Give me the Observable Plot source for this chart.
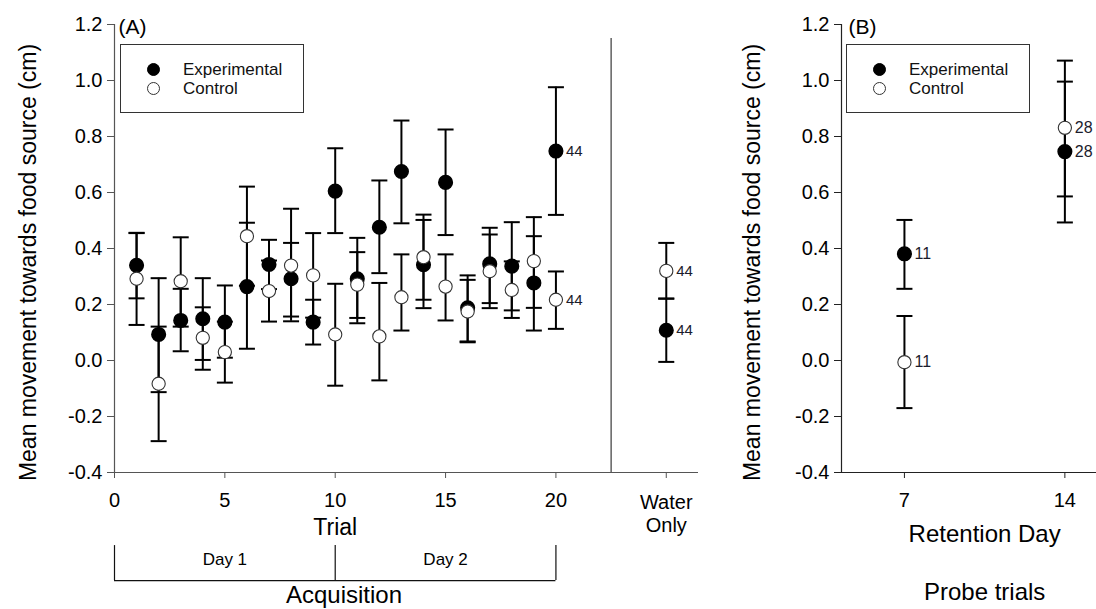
<!DOCTYPE html>
<html>
<head>
<meta charset="utf-8">
<script src="https://cdn.jsdelivr.net/npm/d3@7"></script>
<script src="https://cdn.jsdelivr.net/npm/@observablehq/plot@0.6"></script>
<style>
  body { margin: 0; background: #fff; }
  #wrap { position: relative; width: 1096px; height: 609px; font-family: "Liberation Sans", Arial, sans-serif; }
  #wrap svg { position: absolute; top: 0; }
  .legend { position: absolute; border: 1px solid #333; background: #fff; box-sizing: border-box; font-size: 17px; color: #111; }
  .legend .row { position: absolute; left: 0; height: 20px; line-height: 20px; white-space: nowrap; }
  .legend .mk { position: absolute; width: 13px; height: 13px; border-radius: 50%; box-sizing: border-box; top: 3px; }
  .legend .lab { position: absolute; }
</style>
</head>
<body>
<div id="wrap"></div>
<script>
// ---------- data (panel A: acquisition trials) ----------
const trials   = [1,2,3,4,5,6,7,8,9,10,11,12,13,14,15,16,17,18,19,20];
const expMean  = [0.340,0.093,0.143,0.149,0.137,0.264,0.343,0.292,0.137,0.605,0.292,0.476,0.675,0.342,0.636,0.188,0.345,0.337,0.277,0.748];
const expLo    = [0.222,-0.113,0.033,0.002,0.010,0.042,0.255,0.157,0.057,0.455,0.152,0.312,0.490,0.187,0.448,0.068,0.205,0.179,0.107,0.520];
const expHi    = [0.456,0.294,0.256,0.294,0.268,0.492,0.431,0.420,0.217,0.758,0.438,0.643,0.857,0.502,0.825,0.304,0.474,0.494,0.444,0.976];
const ctrlMean = [0.292,-0.083,0.283,0.081,0.030,0.444,0.248,0.339,0.304,0.093,0.271,0.086,0.226,0.369,0.264,0.175,0.319,0.252,0.355,0.217];
const ctrlLo   = [0.127,-0.288,0.121,-0.033,-0.079,0.267,0.139,0.140,0.153,-0.090,0.133,-0.071,0.107,0.217,0.143,0.065,0.187,0.152,0.188,0.113];
const ctrlHi   = [0.455,0.121,0.440,0.190,0.139,0.621,0.357,0.542,0.455,0.274,0.387,0.277,0.379,0.521,0.379,0.288,0.450,0.354,0.512,0.318];
const nLastTrial = {exp: 44, ctrl: 44};

// water-only trial
const waterPos  = 25;
const waterExp  = {m: 0.108, lo: -0.005, hi: 0.221, n: 44};
const waterCtrl = {m: 0.320, lo: 0.221, hi: 0.420, n: 44};

// ---------- data (panel B: probe trials) ----------
const retentionDays = [7, 14];
const probeExpMean  = [0.381, 0.746];
const probeExpLo    = [0.256, 0.493];
const probeExpHi    = [0.502, 0.996];
const probeCtrlMean = [-0.006, 0.831];
const probeCtrlLo   = [-0.170, 0.586];
const probeCtrlHi   = [0.159, 1.071];
const probeN        = [11, 28];

// ---------- tick labels / text ----------
const yTicks = [-0.4,-0.2,0.0,0.2,0.4,0.6,0.8,1.0,1.2];
const trialTicks = [0,5,10,15,20];
const waterLabel = "Water\nOnly";
const yLabel = "Mean movement towards food source (cm)";
const dayGroups = [{label: "Day 1", from: 0, to: 10}, {label: "Day 2", from: 10, to: 20}];
const groupLabel = "Acquisition";
const seriesNames = ["Experimental", "Control"];

// ---------- build tables ----------
const expA = trials.map((t, i) => ({x: t, m: expMean[i], lo: expLo[i], hi: expHi[i], n: i === trials.length - 1 ? nLastTrial.exp : null}))
  .concat([{x: waterPos, ...waterExp}]);
const ctrlA = trials.map((t, i) => ({x: t, m: ctrlMean[i], lo: ctrlLo[i], hi: ctrlHi[i], n: i === trials.length - 1 ? nLastTrial.ctrl : null}))
  .concat([{x: waterPos, ...waterCtrl}]);
const expB = retentionDays.map((d, i) => ({x: d, m: probeExpMean[i], lo: probeExpLo[i], hi: probeExpHi[i], n: probeN[i]}));
const ctrlB = retentionDays.map((d, i) => ({x: d, m: probeCtrlMean[i], lo: probeCtrlLo[i], hi: probeCtrlHi[i], n: probeN[i]}));

const capSymbol = {draw(ctx, size) { const w = Math.sqrt(size / Math.PI); ctx.moveTo(-w, 0); ctx.lineTo(w, 0); }};
const fmt = d => d.toFixed(1);
const FONT = "'Liberation Sans', Arial, sans-serif";

function seriesMarks(exp, ctrl, nSize) {
  const all = exp.concat(ctrl);
  return [
    Plot.ruleX(all, {x: "x", y1: "lo", y2: "hi", stroke: "black", strokeWidth: 2}),
    Plot.dot(all, {x: "x", y: "lo", symbol: capSymbol, r: 8, stroke: "black", strokeWidth: 2, fill: "none"}),
    Plot.dot(all, {x: "x", y: "hi", symbol: capSymbol, r: 8, stroke: "black", strokeWidth: 2, fill: "none"}),
    Plot.dot(exp, {x: "x", y: "m", r: 6.8, fill: "black", stroke: "black"}),
    Plot.dot(ctrl, {x: "x", y: "m", r: 6.6, fill: "white", stroke: "#333", strokeWidth: 1.1}),
    Plot.text(all.filter(d => d.n != null), {x: "x", y: "m", text: d => String(d.n), textAnchor: "start", dx: 10, fontSize: nSize, fill: "#1c1c2c"})
  ];
}

// ---------- panel A ----------
const plotA = Plot.plot({
  width: 720, height: 609,
  marginLeft: 114, marginRight: 22, marginTop: 24, marginBottom: 137,
  style: {fontFamily: FONT, fontSize: "20px", color: "#000", background: "transparent", overflow: "visible"},
  x: {domain: [0, 26.46]},
  y: {domain: [-0.4, 1.2]},
  marks: [
    Plot.ruleX([0], {stroke: "#555", strokeWidth: 1.2}),
    Plot.ruleY([-0.4], {stroke: "#555", strokeWidth: 1.2}),
    Plot.axisY({ticks: yTicks, tickFormat: fmt, tickSize: 7, tickPadding: 5, label: null, stroke: "#555", fontSize: 20, fill: "#000"}),
    Plot.axisX({ticks: trialTicks.concat([waterPos]), tickFormat: d => d === waterPos ? "" : String(d), tickSize: 6, tickPadding: 14, label: null, stroke: "#555", fontSize: 20, fill: "#000"}),
    Plot.text([waterLabel], {x: waterPos, frameAnchor: "bottom", lineAnchor: "top", dy: 20, lineHeight: 1.15, fontSize: 20}),
    Plot.ruleX([22.5], {y1: -0.4, y2: 1.15, stroke: "#111", strokeWidth: 1}),
    Plot.text([yLabel], {frameAnchor: "left", textAnchor: "middle", lineAnchor: "middle", rotate: -90, dx: -86, dy: 14, fontSize: 23}),
    Plot.text(["(A)"], {frameAnchor: "top-left", textAnchor: "start", lineAnchor: "middle", dx: 4, dy: 3, fontSize: 21}),
    Plot.text(["Trial"], {x: 10, frameAnchor: "bottom", lineAnchor: "middle", dy: 55, fontSize: 23}),
    // acquisition bracket
    Plot.ruleX([dayGroups[0].from, dayGroups[0].to, dayGroups[1].to], {y1: -0.661, y2: -0.786, stroke: "#111", strokeWidth: 1.2}),
    Plot.ruleY([-0.786], {x1: dayGroups[0].from, x2: dayGroups[1].to, stroke: "#111", strokeWidth: 1.2}),
    Plot.text(dayGroups, {x: d => (d.from + d.to) / 2, text: "label", frameAnchor: "bottom", lineAnchor: "middle", dy: 87, fontSize: 17}),
    Plot.text([groupLabel], {x: 10.4, frameAnchor: "bottom", lineAnchor: "middle", dy: 123, fontSize: 24}),
    ...seriesMarks(expA, ctrlA, 15)
  ]
});
plotA.style.left = "0px";

// ---------- panel B ----------
const plotB = Plot.plot({
  width: 376, height: 609,
  marginLeft: 121, marginRight: 0, marginTop: 24, marginBottom: 137,
  style: {fontFamily: FONT, fontSize: "20px", color: "#000", background: "transparent", overflow: "visible"},
  x: {domain: [4.254, 15.38]},
  y: {domain: [-0.4, 1.2]},
  marks: [
    Plot.ruleX([4.254], {stroke: "#222", strokeWidth: 1.2}),
    Plot.ruleY([-0.4], {stroke: "#222", strokeWidth: 1.2}),
    Plot.axisY({ticks: yTicks, tickFormat: fmt, tickSize: 7, tickPadding: 5, label: null, stroke: "#222", fontSize: 20, fill: "#000"}),
    Plot.axisX({ticks: retentionDays, tickFormat: d => String(d), tickSize: 6, tickPadding: 14, label: null, stroke: "#222", fontSize: 20, fill: "#000"}),
    Plot.text([yLabel], {frameAnchor: "left", textAnchor: "middle", lineAnchor: "middle", rotate: -90, dx: -89, dy: 14, fontSize: 23}),
    Plot.text(["(B)"], {frameAnchor: "top-left", textAnchor: "start", lineAnchor: "middle", dx: 7, dy: 3, fontSize: 21}),
    Plot.text(["Retention Day"], {x: 10.5, frameAnchor: "bottom", lineAnchor: "middle", dy: 62, fontSize: 24}),
    Plot.text(["Probe trials"], {x: 10.5, frameAnchor: "bottom", lineAnchor: "middle", dy: 120, fontSize: 24}),
    ...seriesMarks(expB, ctrlB, 16)
  ]
});
plotB.style.left = "720px";

const wrap = document.getElementById("wrap");
wrap.appendChild(plotA);
wrap.appendChild(plotB);

// ---------- legends ----------
function addLegend(left) {
  const box = document.createElement("div");
  box.className = "legend";
  Object.assign(box.style, {left: left + "px", top: "44px", width: "184px", height: "69px"});
  seriesNames.forEach((name, i) => {
    const row = document.createElement("div");
    row.className = "row";
    row.style.top = (15 + i * 19) + "px";
    const mk = document.createElement("span");
    mk.className = "mk";
    mk.style.left = "26px";
    mk.style.background = i === 0 ? "#000" : "#fff";
    mk.style.border = i === 0 ? "1px solid #000" : "1px solid #333";
    const lab = document.createElement("span");
    lab.className = "lab";
    lab.style.left = "62px";
    lab.textContent = name;
    row.appendChild(mk); row.appendChild(lab);
    box.appendChild(row);
  });
  wrap.appendChild(box);
}
addLegend(120);
addLegend(846);
</script>
</body>
</html>
